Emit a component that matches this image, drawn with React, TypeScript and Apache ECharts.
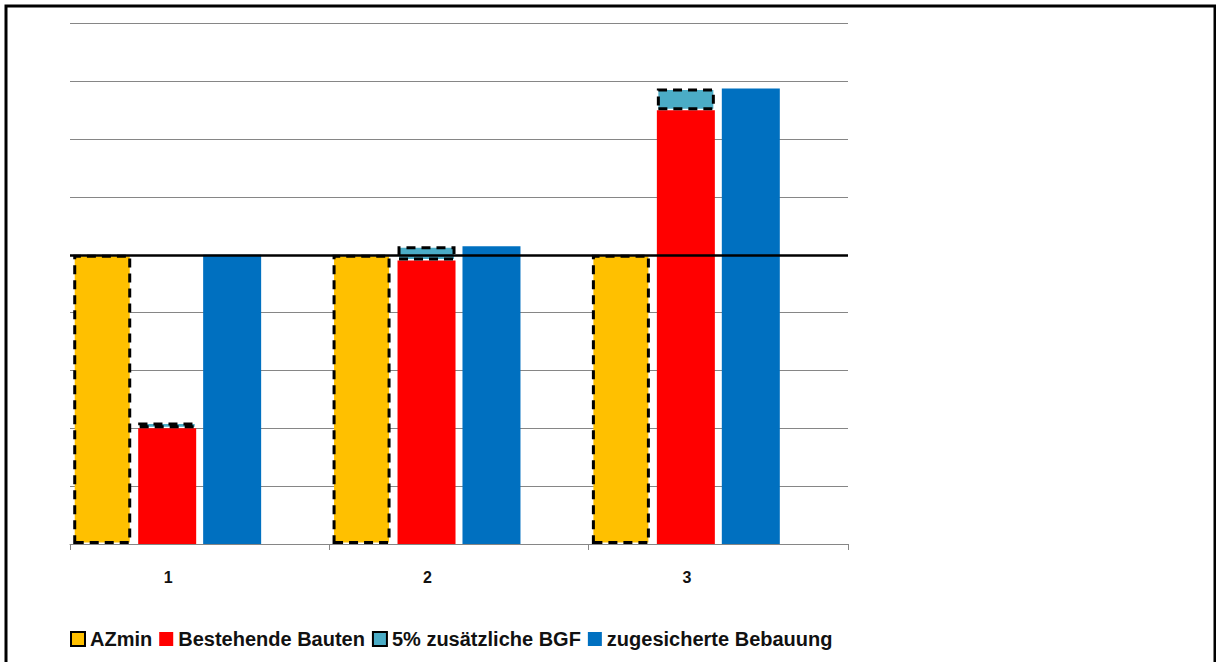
import React, { useEffect, useRef } from "react";
import * as echarts from "echarts";

const categories = ["1", "2", "3"];
const azmin = [5, 5, 5];
const bestehendeBauten = [2.0, 4.9, 7.5];
const zusaetzlicheBGF = [0.1, 0.25, 0.375];
const zugesicherteBebauung = [5, 5.15, 7.875];
const thresholdLine = [5];
const yTicks = [0, 9, 1]; // min, max, interval

const FONT = "'Liberation Sans', Arial, sans-serif";

export default function App() {
  const ref = useRef<HTMLDivElement>(null);
  useEffect(() => {
    if (!ref.current) return;
    const chart = echarts.init(ref.current, undefined, { renderer: "svg" });
    const dashed = { borderColor: "#000", borderWidth: 3, borderType: [9, 6] as any };
    const common = { type: "bar" as const, barWidth: 58, barGap: "12%" };
    chart.setOption({
      animation: false,
      backgroundColor: "#fff",
      grid: { left: 70, right: 368, top: 23.5, bottom: 118, containLabel: false },
      legend: {
        left: 65,
        top: 624,
        itemWidth: 14,
        itemHeight: 14,
        itemGap: 7,
        icon: "rect",
        textStyle: { fontFamily: FONT, fontSize: 20, fontWeight: "bold", color: "#111" },
        data: ["AZmin", "Bestehende Bauten", "5% zusätzliche BGF", "zugesicherte Bebauung"],
      },
      xAxis: {
        type: "category",
        data: categories,
        axisLine: { show: true, lineStyle: { color: "#868686", width: 1 } },
        axisTick: { show: true, length: 6, lineStyle: { color: "#868686" } },
        axisLabel: {
          fontFamily: FONT,
          fontSize: 16,
          fontWeight: "bold",
          color: "#111",
          margin: 25,
          padding: [0, 63, 0, 0],
        },
      },
      yAxis: {
        type: "value",
        min: yTicks[0],
        max: yTicks[1],
        interval: yTicks[2],
        axisLabel: { show: false },
        axisLine: { show: false },
        axisTick: { show: false },
        splitLine: { lineStyle: { color: "#868686", width: 1 } },
      },
      series: [
        {
          ...common,
          name: "AZmin",
          data: azmin,
          itemStyle: { color: "#FFC000", ...dashed },
        },
        {
          ...common,
          name: "Bestehende Bauten",
          stack: "b",
          data: bestehendeBauten,
          itemStyle: { color: "#FF0000" },
        },
        {
          ...common,
          name: "5% zusätzliche BGF",
          stack: "b",
          data: zusaetzlicheBGF,
          itemStyle: { color: "#4BACC6", ...dashed },
        },
        {
          ...common,
          name: "zugesicherte Bebauung",
          data: zugesicherteBebauung,
          itemStyle: { color: "#0070C0" },
        },
        {
          ...common,
          name: "_pad",
          data: ["-", "-", "-"],
          z: 10,
          markLine: {
            silent: true,
            symbol: ["none", "none"],
            label: { show: false },
            lineStyle: { color: "#000", width: 2.5, type: "solid" },
            data: [{ yAxis: thresholdLine[0] }],
          },
        },
      ],
      graphic: [
        {
          type: "rect",
          shape: { x: 6, y: 6, width: 1209, height: 700 },
          style: { fill: "none", stroke: "#000", lineWidth: 3 },
          silent: true,
        },
      ],
    });
    return () => chart.dispose();
  }, []);
  return (
    <div
      ref={ref}
      style={{ position: "absolute", left: 0, top: 0, width: 1216, height: 662 }}
    />
  );
}
